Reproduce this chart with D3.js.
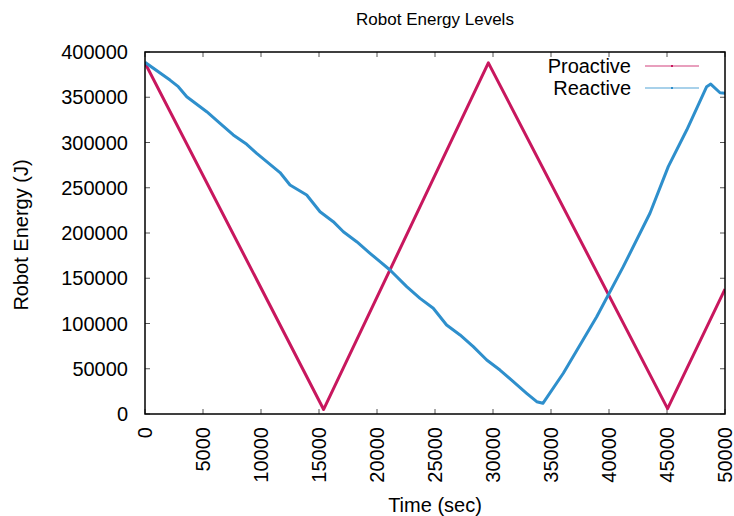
<!DOCTYPE html>
<html>
<head>
<meta charset="utf-8">
<script src="https://cdn.jsdelivr.net/npm/d3@7"></script>
<style>
  body { margin: 0; background: #fff; }
  svg { display: block; font-family: "Liberation Sans", Arial, sans-serif; }
</style>
</head>
<body>
<svg id="chart" width="734" height="516"></svg>
<script>
// ---- data ----
const proactiveTime   = [0, 15400, 29600, 45050, 50000];
const proactiveEnergy = [388000, 5000, 388000, 6000, 138000];

const reactiveTime = [0, 2155, 2870, 3600, 5320, 6470, 7610, 8770, 9630, 11640,
  12500, 13940, 15090, 16230, 17100, 18250, 19400, 20260, 21120, 22560,
  23710, 24850, 26000, 27160, 28300, 29460, 30600, 31750, 32900, 33770,
  34300, 36060, 38940, 41230, 43530, 45110, 46700, 48420, 48770, 49570, 50000];
const reactiveEnergy = [388600, 369000, 361700, 350600, 334000, 321200, 308300, 298000, 288000, 266800,
  253000, 242000, 223500, 212500, 201400, 190400, 177600, 168300, 159100, 140700,
  127800, 116800, 98300, 87300, 74400, 59700, 48600, 35700, 22900, 13600,
  11800, 45000, 107500, 162800, 221800, 273300, 313800, 361700, 364600, 355000, 354400];

const xTicks = [0, 5000, 10000, 15000, 20000, 25000, 30000, 35000, 40000, 45000, 50000];
const yTicks = [0, 50000, 100000, 150000, 200000, 250000, 300000, 350000, 400000];

const seriesNames = ["Proactive", "Reactive"];
const seriesColors = ["#c8175e", "#2e8fcc"];

// ---- layout ----
const svg = d3.select("#chart");
const L = 145, R = 725, T = 52, B = 414;
const x = d3.scaleLinear().domain([0, 50000]).range([L, R]);
const y = d3.scaleLinear().domain([0, 400000]).range([B, T]);

// ticks (inward, mirrored)
const tickLen = 5;
const axisG = svg.append("g");
xTicks.forEach(t => {
  axisG.append("line").attr("x1", x(t)).attr("x2", x(t)).attr("y1", B).attr("y2", B - tickLen)
    .attr("stroke", "#555").attr("stroke-width", 1);
  axisG.append("line").attr("x1", x(t)).attr("x2", x(t)).attr("y1", T).attr("y2", T + tickLen)
    .attr("stroke", "#555").attr("stroke-width", 1);
});
yTicks.forEach(t => {
  axisG.append("line").attr("x1", L).attr("x2", L + tickLen).attr("y1", y(t)).attr("y2", y(t))
    .attr("stroke", "#555").attr("stroke-width", 1);
  axisG.append("line").attr("x1", R).attr("x2", R - tickLen).attr("y1", y(t)).attr("y2", y(t))
    .attr("stroke", "#555").attr("stroke-width", 1);
});

// tick labels
xTicks.forEach(t => {
  svg.append("text")
    .attr("transform", `translate(${x(t) + 7},${B + 13}) rotate(-90)`)
    .attr("text-anchor", "end")
    .attr("font-size", 20)
    .attr("fill", "#000")
    .text(t);
});
yTicks.forEach(t => {
  svg.append("text")
    .attr("x", L - 17).attr("y", y(t) + 7)
    .attr("text-anchor", "end")
    .attr("font-size", 20)
    .attr("fill", "#000")
    .text(t);
});

// series
const line = d3.line().x(d => x(d[0])).y(d => y(d[1]));
const proData = proactiveTime.map((t, i) => [t, proactiveEnergy[i]]);
const reaData = reactiveTime.map((t, i) => [t, reactiveEnergy[i]]);

svg.append("clipPath").attr("id", "clip").append("rect")
  .attr("x", L).attr("y", T).attr("width", R - L).attr("height", B - T);

const plotG = svg.append("g").attr("clip-path", "url(#clip)");
plotG.append("path").datum(proData).attr("d", line)
  .attr("fill", "none").attr("stroke", seriesColors[0]).attr("stroke-width", 3).attr("stroke-linejoin", "round");
plotG.append("path").datum(reaData).attr("d", line)
  .attr("fill", "none").attr("stroke", seriesColors[1]).attr("stroke-width", 3).attr("stroke-linejoin", "round");

// frame
svg.append("rect").attr("x", L).attr("y", T).attr("width", R - L).attr("height", B - T)
  .attr("fill", "none").attr("stroke", "#000").attr("stroke-width", 1.5);

// legend
seriesNames.forEach((n, i) => {
  const ly = 66 + i * 22;
  svg.append("text").attr("x", 631).attr("y", ly + 7).attr("text-anchor", "end")
    .attr("font-size", 20).attr("fill", "#000").text(n);
  svg.append("line").attr("x1", 645).attr("x2", 699).attr("y1", ly).attr("y2", ly)
    .attr("stroke", seriesColors[i]).attr("stroke-width", 1.5).attr("stroke-opacity", 0.55);
  svg.append("rect").attr("x", 671).attr("y", ly - 1).attr("width", 2).attr("height", 2)
    .attr("fill", seriesColors[i]);
});

// titles
svg.append("text").attr("x", (L + R) / 2).attr("y", 25).attr("text-anchor", "middle")
  .attr("font-size", 17).attr("fill", "#000").text("Robot Energy Levels");
svg.append("text").attr("x", (L + R) / 2).attr("y", 512).attr("text-anchor", "middle")
  .attr("font-size", 20).attr("fill", "#000").text("Time (sec)");
svg.append("text").attr("transform", `translate(28,${(T + B) / 2 + 2}) rotate(-90)`)
  .attr("text-anchor", "middle")
  .attr("font-size", 20).attr("fill", "#000").text("Robot Energy (J)");
</script>
</body>
</html>
